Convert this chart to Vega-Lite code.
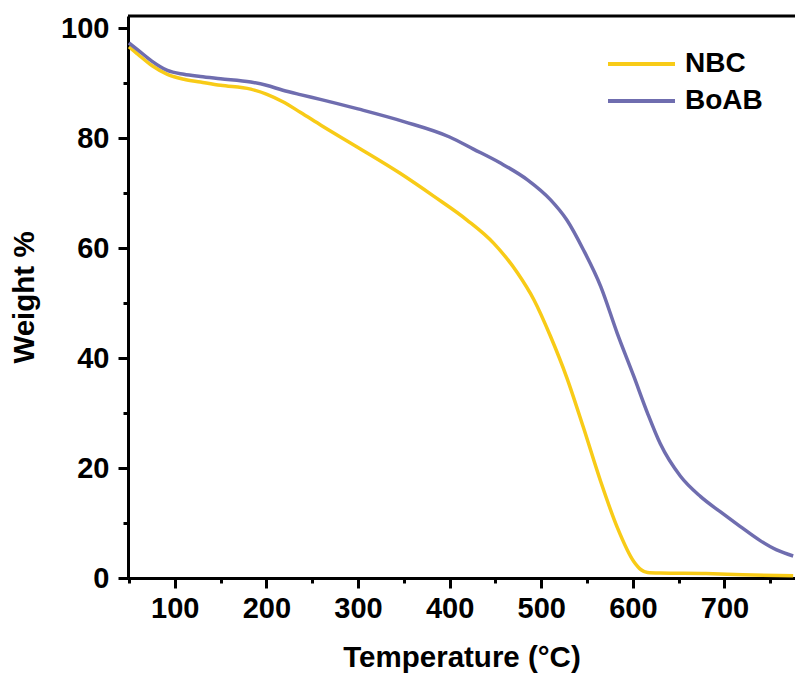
{
  "$schema": "https://vega.github.io/schema/vega-lite/v6.json",
  "width": 667,
  "height": 562,
  "autosize": "none",
  "padding": {"left": 128, "top": 16, "right": 0, "bottom": 101},
  "background": "white",
  "config": {
    "view": {"stroke": null},
    "font": "Liberation Sans",
    "axis": {
      "domainColor": "black", "domainWidth": 3, "tickColor": "black", "tickWidth": 3,
      "grid": false, "labelFont": "Liberation Sans", "labelFontSize": 29, "labelFontWeight": "bold",
      "labelColor": "black", "titleFont": "Liberation Sans", "titleFontSize": 29.5, "titleFontWeight": "bold", "titleColor": "black"
    }
  },
  "datasets": {
    "tga": [
      {"t": 50, "w": 96.6, "s": "NBC"}, {"t": 60, "w": 95.2, "s": "NBC"}, {"t": 75, "w": 93.2, "s": "NBC"},
      {"t": 92, "w": 91.6, "s": "NBC"}, {"t": 110, "w": 90.7, "s": "NBC"}, {"t": 128, "w": 90.2, "s": "NBC"},
      {"t": 150, "w": 89.6, "s": "NBC"}, {"t": 183, "w": 88.9, "s": "NBC"}, {"t": 200, "w": 88.0, "s": "NBC"},
      {"t": 218, "w": 86.6, "s": "NBC"}, {"t": 237, "w": 84.7, "s": "NBC"}, {"t": 260, "w": 82.3, "s": "NBC"},
      {"t": 300, "w": 78.3, "s": "NBC"}, {"t": 346, "w": 73.6, "s": "NBC"}, {"t": 383, "w": 69.4, "s": "NBC"},
      {"t": 419, "w": 65.1, "s": "NBC"}, {"t": 448, "w": 60.9, "s": "NBC"}, {"t": 474, "w": 55.5, "s": "NBC"},
      {"t": 492, "w": 50.6, "s": "NBC"}, {"t": 510, "w": 44.0, "s": "NBC"}, {"t": 528, "w": 36.4, "s": "NBC"},
      {"t": 546, "w": 27.4, "s": "NBC"}, {"t": 565, "w": 17.5, "s": "NBC"}, {"t": 583, "w": 9.2, "s": "NBC"},
      {"t": 601, "w": 3.0, "s": "NBC"}, {"t": 609, "w": 1.5, "s": "NBC"}, {"t": 616, "w": 1.0, "s": "NBC"},
      {"t": 630, "w": 0.9, "s": "NBC"}, {"t": 680, "w": 0.8, "s": "NBC"}, {"t": 720, "w": 0.6, "s": "NBC"},
      {"t": 775, "w": 0.4, "s": "NBC"},
      {"t": 50, "w": 97.3, "s": "BoAB"}, {"t": 60, "w": 96.0, "s": "BoAB"}, {"t": 75, "w": 94.0, "s": "BoAB"},
      {"t": 92, "w": 92.3, "s": "BoAB"}, {"t": 110, "w": 91.6, "s": "BoAB"}, {"t": 128, "w": 91.2, "s": "BoAB"},
      {"t": 150, "w": 90.8, "s": "BoAB"}, {"t": 183, "w": 90.2, "s": "BoAB"}, {"t": 200, "w": 89.6, "s": "BoAB"},
      {"t": 218, "w": 88.7, "s": "BoAB"}, {"t": 237, "w": 87.9, "s": "BoAB"}, {"t": 260, "w": 87.0, "s": "BoAB"},
      {"t": 300, "w": 85.3, "s": "BoAB"}, {"t": 350, "w": 83.0, "s": "BoAB"}, {"t": 400, "w": 80.2, "s": "BoAB"},
      {"t": 426, "w": 78.0, "s": "BoAB"}, {"t": 455, "w": 75.5, "s": "BoAB"}, {"t": 485, "w": 72.4, "s": "BoAB"},
      {"t": 510, "w": 68.8, "s": "BoAB"}, {"t": 528, "w": 65.1, "s": "BoAB"}, {"t": 546, "w": 59.7, "s": "BoAB"},
      {"t": 565, "w": 53.0, "s": "BoAB"}, {"t": 583, "w": 44.5, "s": "BoAB"}, {"t": 601, "w": 36.7, "s": "BoAB"},
      {"t": 616, "w": 30.0, "s": "BoAB"}, {"t": 630, "w": 24.4, "s": "BoAB"}, {"t": 652, "w": 18.5, "s": "BoAB"},
      {"t": 674, "w": 14.8, "s": "BoAB"}, {"t": 695, "w": 12.1, "s": "BoAB"}, {"t": 717, "w": 9.4, "s": "BoAB"},
      {"t": 739, "w": 6.8, "s": "BoAB"}, {"t": 757, "w": 5.1, "s": "BoAB"}, {"t": 775, "w": 4.0, "s": "BoAB"}
    ],
    "top": [{"w": 102.2}]
  },
  "layer": [
    {
      "data": {"name": "tga"},
      "mark": {"type": "line", "interpolate": "monotone", "strokeWidth": 3.5, "clip": true},
      "encoding": {
        "x": {
          "field": "t", "type": "quantitative",
          "scale": {"domain": [49, 777], "nice": false, "zero": false},
          "axis": {
            "title": "Temperature (°C)",
            "values": [50, 100, 150, 200, 250, 300, 350, 400, 450, 500, 550, 600, 650, 700, 750],
            "labelExpr": "datum.value % 100 === 0 ? datum.label : ''",
            "tickSize": {"condition": {"test": "datum.value % 100 === 0", "value": 10}, "value": 5},
            "labelPadding": 6, "titlePadding": 20, "labelFlush": false, "labelOverlap": false
          }
        },
        "y": {
          "field": "w", "type": "quantitative",
          "scale": {"domain": [0, 102.2], "nice": false},
          "axis": {
            "title": "Weight %",
            "values": [0, 10, 20, 30, 40, 50, 60, 70, 80, 90, 100],
            "labelExpr": "datum.value % 20 === 0 ? datum.label : ''",
            "tickSize": {"condition": {"test": "datum.value % 20 === 0", "value": 10}, "value": 5},
            "labelPadding": 9, "titlePadding": 21, "labelFlush": false, "labelOverlap": false
          }
        },
        "color": {
          "field": "s", "type": "nominal",
          "scale": {"domain": ["NBC", "BoAB"], "range": ["#F8CB17", "#6F6DAF"]},
          "legend": {
            "title": null, "orient": "none", "legendX": 478, "legendY": 32,
            "symbolType": "stroke", "symbolSize": 4489, "symbolStrokeWidth": 4,
            "labelFontSize": 28, "labelFontWeight": "bold", "labelColor": "black", "labelFont": "Liberation Sans",
            "labelOffset": 8, "rowPadding": 5, "clipHeight": 32
          }
        }
      }
    },
    {
      "data": {"name": "top"},
      "mark": {"type": "rule", "color": "black", "strokeWidth": 3},
      "encoding": {"y": {"field": "w", "type": "quantitative"}}
    }
  ]
}
